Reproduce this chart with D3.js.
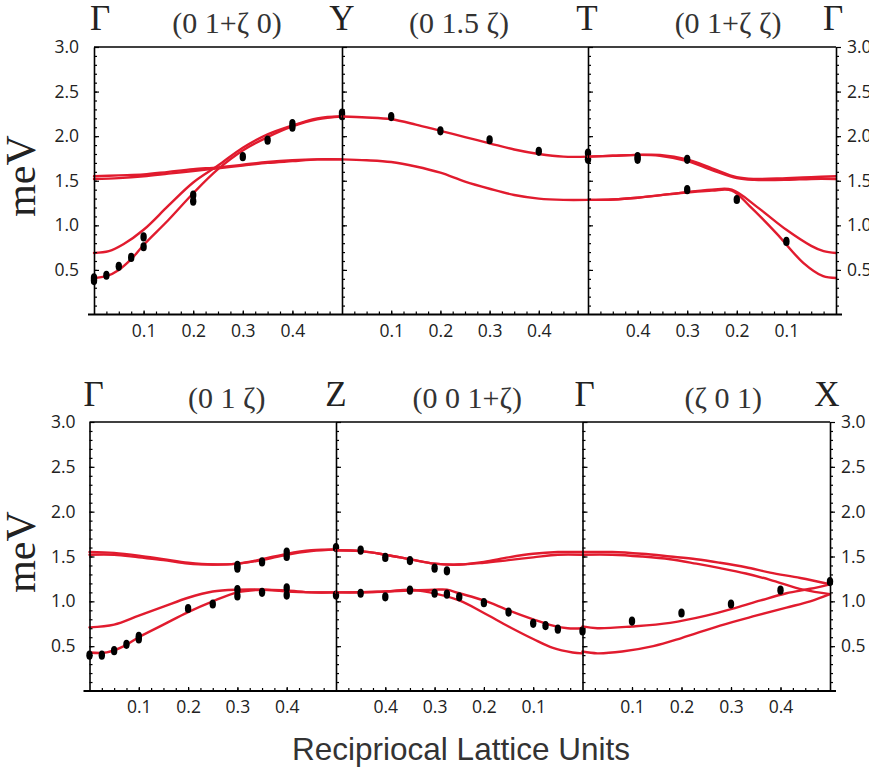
<!DOCTYPE html>
<html><head><meta charset="utf-8">
<script src="https://cdn.jsdelivr.net/npm/d3@7"></script>
<style>body{margin:0;background:#fff}svg{display:block}</style>
</head><body><svg id="c" width="869" height="769"></svg>
<script>
// ---------------- DATA ----------------
const energyTicks = [0.5, 1.0, 1.5, 2.0, 2.5, 3.0];
const zetaTicks = [0.1, 0.2, 0.3, 0.4];
const topPointLabels = ["Γ", "Y", "T", "Γ"];
const topPathLabels = ["(0 1+ζ 0)", "(0 1.5 ζ)", "(0 1+ζ ζ)"];
const bottomPointLabels = ["Γ", "Z", "Γ", "X"];
const bottomPathLabels = ["(0 1 ζ)", "(0 0 1+ζ)", "(ζ 0 1)"];
const xAxisTitle = "Recipriocal Lattice Units";
const yAxisTitle = "meV";

// Top panel, segment Γ→Y  (ζ, meV)
const curvesGY = [
  [[0,0.41],[0.025,0.43],[0.05,0.50],[0.075,0.62],[0.1,0.78],[0.15,1.06],[0.2,1.36],[0.25,1.63],[0.3,1.84],[0.35,1.99],[0.4,2.11],[0.45,2.19],[0.5,2.22]],
  [[0,0.69],[0.03,0.71],[0.06,0.79],[0.1,0.95],[0.15,1.22],[0.2,1.48],[0.25,1.67],[0.3,1.87],[0.35,2.02],[0.4,2.12],[0.45,2.2],[0.5,2.22]],
  [[0,1.55],[0.05,1.56],[0.1,1.57],[0.15,1.60],[0.2,1.63],[0.25,1.65],[0.3,1.68],[0.35,1.71],[0.4,1.73],[0.45,1.74],[0.5,1.74]],
  [[0,1.52],[0.05,1.53],[0.1,1.55],[0.15,1.58],[0.2,1.61],[0.25,1.64],[0.3,1.67],[0.35,1.70],[0.4,1.72],[0.45,1.74],[0.5,1.74]]
];
const dotsGY = [[0,0.41],[0,0.38],[0.025,0.44],[0.05,0.54],[0.075,0.64],[0.1,0.87],[0.1,0.76],[0.2,1.34],[0.2,1.27],[0.3,1.77],[0.35,1.955],[0.4,2.14],[0.4,2.10],[0.5,2.26],[0.5,2.23]];

// Top panel, segment Y→T
const curvesYT = [
  [[0,2.22],[0.05,2.21],[0.1,2.19],[0.15,2.13],[0.2,2.06],[0.25,1.99],[0.3,1.92],[0.35,1.85],[0.4,1.80],[0.45,1.77],[0.5,1.77]],
  [[0,1.74],[0.05,1.73],[0.1,1.71],[0.15,1.66],[0.2,1.59],[0.25,1.49],[0.3,1.41],[0.35,1.34],[0.4,1.30],[0.45,1.285],[0.5,1.285]]
];
const dotsYT = [[0.1,2.22],[0.2,2.06],[0.3,1.96],[0.4,1.83],[0.5,1.81],[0.5,1.74]];

// Top panel, segment T→Γ (ζ measured from Γ)
const curvesTG = [
  [[0.5,1.77],[0.45,1.78],[0.4,1.79],[0.355,1.79],[0.3,1.74],[0.25,1.64],[0.2,1.54],[0.165,1.52],[0.1,1.53],[0.05,1.54],[0,1.55]],
  [[0.5,1.77],[0.45,1.78],[0.4,1.79],[0.355,1.78],[0.3,1.72],[0.25,1.62],[0.2,1.53],[0.165,1.51],[0.1,1.51],[0.05,1.52],[0,1.52]],
  [[0.5,1.285],[0.45,1.29],[0.4,1.31],[0.335,1.35],[0.25,1.40],[0.21,1.40],[0.16,1.21],[0.1,0.95],[0.05,0.77],[0.025,0.71],[0,0.69]],
  [[0.5,1.285],[0.45,1.29],[0.4,1.31],[0.335,1.35],[0.25,1.39],[0.21,1.39],[0.173,1.21],[0.12,0.91],[0.066,0.58],[0.026,0.43],[0,0.41]]
];
const dotsTG = [[0.4,1.77],[0.4,1.74],[0.3,1.74],[0.3,1.40],[0.2,1.29],[0.1,0.82]];

// Bottom panel, segment Γ→Z
const curvesGZ = [
  [[0,1.55],[0.05,1.54],[0.1,1.51],[0.15,1.47],[0.2,1.43],[0.25,1.41],[0.3,1.42],[0.35,1.47],[0.4,1.53],[0.45,1.57],[0.5,1.58]],
  [[0,1.52],[0.05,1.52],[0.1,1.49],[0.15,1.46],[0.2,1.42],[0.25,1.41],[0.3,1.42],[0.35,1.46],[0.4,1.52],[0.45,1.56],[0.5,1.58]],
  [[0,0.71],[0.05,0.74],[0.1,0.84],[0.15,0.94],[0.2,1.04],[0.25,1.11],[0.3,1.13],[0.35,1.13],[0.4,1.11],[0.45,1.10],[0.5,1.10]],
  [[0,0.43],[0.035,0.43],[0.07,0.50],[0.1,0.60],[0.15,0.74],[0.2,0.88],[0.25,1.0],[0.3,1.10],[0.35,1.13],[0.4,1.12],[0.45,1.10],[0.5,1.10]]
];
const dotsGZ = [[0,0.40],[0.025,0.40],[0.05,0.45],[0.075,0.52],[0.1,0.61],[0.1,0.58],[0.2,0.92],[0.25,0.97],[0.3,1.40],[0.3,1.37],[0.3,1.13],[0.3,1.06],[0.35,1.44],[0.35,1.10],[0.4,1.55],[0.4,1.50],[0.4,1.15],[0.4,1.07],[0.5,1.60],[0.5,1.07]];

// Bottom panel, segment Z→Γ (ζ measured from Γ)
const curvesZG = [
  [[0.5,1.57],[0.45,1.56],[0.4,1.52],[0.35,1.47],[0.3,1.42],[0.25,1.41],[0.2,1.44],[0.15,1.49],[0.1,1.53],[0.05,1.55],[0,1.55]],
  [[0.5,1.57],[0.45,1.56],[0.4,1.52],[0.35,1.47],[0.3,1.42],[0.25,1.41],[0.2,1.43],[0.15,1.46],[0.1,1.49],[0.05,1.52],[0,1.52]],
  [[0.5,1.10],[0.45,1.10],[0.4,1.11],[0.35,1.12],[0.3,1.13],[0.275,1.13],[0.25,1.09],[0.2,1.01],[0.15,0.90],[0.1,0.80],[0.06,0.73],[0.03,0.70],[0,0.70]],
  [[0.5,1.10],[0.4,1.11],[0.35,1.13],[0.31,1.10],[0.25,1.01],[0.2,0.87],[0.15,0.72],[0.1,0.58],[0.06,0.48],[0.02,0.43],[0,0.42]]
];
const dotsZG = [[0.45,1.57],[0.45,1.09],[0.4,1.49],[0.4,1.05],[0.35,1.455],[0.35,1.125],[0.3,1.37],[0.3,1.09],[0.275,1.34],[0.275,1.08],[0.25,1.05],[0.2,0.985],[0.15,0.88],[0.1,0.755],[0.075,0.73],[0.05,0.69],[0,0.67]];

// Bottom panel, segment Γ→X
const curvesGX = [
  [[0,1.55],[0.06,1.55],[0.12,1.53],[0.177,1.50],[0.23,1.47],[0.278,1.43],[0.33,1.38],[0.379,1.32],[0.44,1.26],[0.5,1.19]],
  [[0,1.52],[0.06,1.52],[0.12,1.50],[0.177,1.47],[0.23,1.42],[0.278,1.37],[0.33,1.31],[0.379,1.24],[0.446,1.13],[0.5,1.08]],
  [[0,0.72],[0.03,0.70],[0.1,0.72],[0.177,0.76],[0.25,0.84],[0.311,0.93],[0.36,1.01],[0.412,1.09],[0.46,1.14],[0.5,1.19]],
  [[0,0.44],[0.03,0.42],[0.08,0.44],[0.143,0.50],[0.2,0.59],[0.278,0.73],[0.35,0.84],[0.412,0.93],[0.46,1.00],[0.5,1.08]]
];
const dotsGX = [[0.1,0.78],[0.2,0.87],[0.3,0.97],[0.4,1.125],[0.5,1.22]];

// ---------------- DRAW ----------------
const svg = d3.select("#c");
svg.append("rect").attr("width", 869).attr("height", 769).attr("fill", "#fff");
const RED = "#e11b2e";
const TICKFONT = "'Open Sans', 'Noto Sans', sans-serif";
const SERIF = "'Liberation Serif', 'DejaVu Serif', serif";

function styleAxis(g) {
  g.selectAll("path.domain").attr("stroke", "#000").attr("stroke-width", 1.6);
  g.selectAll(".tick line").attr("stroke", "#000").attr("stroke-width", 1.2);
  g.selectAll(".tick text").attr("font-family", TICKFONT).attr("font-size", 17.5).attr("fill", "#222");
}

function panel(cfg) {
  const E = cfg.edges;
  const y = d3.scaleLinear().domain([0, 3]).range(cfg.yRange);
  const g = svg.append("g");

  cfg.segments.forEach((s, i) => {
    const x = d3.scaleLinear().domain(s.dir).range([E[i], E[i + 1]]);
    const line = d3.line().x(d => x(d[0])).y(d => y(d[1])).curve(d3.curveCatmullRom.alpha(0.5));

    const minor = g.append("g").attr("transform", `translate(0,${y(0)})`)
      .call(d3.axisBottom(x).tickValues(d3.range(0.025, 0.49, 0.025)).tickSize(-3).tickFormat(""));
    minor.select("path.domain").remove();
    styleAxis(minor);
    const major = g.append("g").attr("transform", `translate(0,${y(0)})`)
      .call(d3.axisBottom(x).tickValues(zetaTicks).tickSizeInner(-4).tickSizeOuter(0).tickPadding(10).tickFormat(d3.format(".1f")));
    major.select("path.domain").remove();
    styleAxis(major);

    g.append("g").selectAll("path").data(s.curves).join("path")
      .attr("d", line).attr("fill", "none").attr("stroke", RED).attr("stroke-width", 2.4)
      .attr("stroke-linecap", "round");
    g.append("g").selectAll("ellipse").data(s.dots).join("ellipse")
      .attr("cx", d => x(d[0])).attr("cy", d => y(d[1])).attr("rx", 3.2).attr("ry", 4.6).attr("fill", "#000");
  });

  g.append("line").attr("x1", E[0] - 6).attr("x2", E[3] + 6).attr("y1", y(0)).attr("y2", y(0))
    .attr("stroke", "#000").attr("stroke-width", 1.8);
  g.append("line").attr("x1", E[0]).attr("x2", E[3]).attr("y1", y(3)).attr("y2", y(3))
    .attr("stroke", "#000").attr("stroke-width", 1.4);

  const lm = g.append("g").attr("transform", `translate(${E[0]},0)`)
    .call(d3.axisLeft(y).tickValues(d3.range(0.1, 3.0, 0.1)).tickSize(-3).tickFormat(""));
  lm.select("path.domain").remove(); styleAxis(lm);
  const la = g.append("g").attr("transform", `translate(${E[0]},0)`)
    .call(d3.axisLeft(y).tickValues(energyTicks).tickSizeInner(-5).tickSizeOuter(0).tickPadding(cfg.leftPad).tickFormat(d3.format(".1f")));
  styleAxis(la);

  [1, 2, 3].forEach(k => {
    const dm = g.append("g").attr("transform", `translate(${E[k]},0)`)
      .call(d3.axisRight(y).tickValues(d3.range(0.1, 3.0, 0.1)).tickSize(3).tickFormat(""));
    dm.select("path.domain").remove(); styleAxis(dm);
    const da = g.append("g").attr("transform", `translate(${E[k]},0)`)
      .call(d3.axisRight(y).tickValues(energyTicks).tickSizeInner(5).tickSizeOuter(0).tickPadding(6)
        .tickFormat(k === 3 ? d3.format(".1f") : ""));
    styleAxis(da);
  });

  g.append("g").selectAll("text").data(cfg.pointLabels).join("text")
    .attr("x", (d, i) => E[i] + cfg.pointDx[i]).attr("y", cfg.labelY)
    .attr("text-anchor", "middle").attr("font-family", SERIF).attr("font-size", 35).attr("fill", "#222")
    .text(d => d);
  g.append("g").selectAll("text").data(cfg.pathLabels).join("text")
    .attr("x", (d, i) => (E[i] + E[i + 1]) / 2 + cfg.pathDx[i]).attr("y", cfg.pathY)
    .attr("text-anchor", "middle").attr("font-family", SERIF).attr("font-size", 30).attr("fill", "#333")
    .text(d => d);
  g.append("text").attr("transform", `translate(${cfg.titleX},${cfg.titleY}) rotate(-90)`)
    .attr("text-anchor", "middle").attr("font-family", SERIF).attr("font-size", 42).attr("fill", "#222")
    .text(yAxisTitle);
}

panel({
  edges: [94, 342, 588, 836], yRange: [314.5, 47], leftPad: 15,
  segments: [
    { dir: [0, 0.5], curves: curvesGY, dots: dotsGY },
    { dir: [0, 0.5], curves: curvesYT, dots: dotsYT },
    { dir: [0.5, 0], curves: curvesTG, dots: dotsTG }
  ],
  pointLabels: topPointLabels, pointDx: [6, 0, -1, -3], labelY: 30,
  pathLabels: topPathLabels, pathDx: [9, -6, 16], pathY: 33,
  titleX: 35, titleY: 176
});

panel({
  edges: [89.5, 336, 582.5, 830], yRange: [691, 422], leftPad: 14,
  segments: [
    { dir: [0, 0.5], curves: curvesGZ, dots: dotsGZ },
    { dir: [0.5, 0], curves: curvesZG, dots: dotsZG },
    { dir: [0, 0.5], curves: curvesGX, dots: dotsGX }
  ],
  pointLabels: bottomPointLabels, pointDx: [4, 0, 2, -3], labelY: 406,
  pathLabels: bottomPathLabels, pathDx: [14, 8, 17], pathY: 408,
  titleX: 35, titleY: 552
});

svg.append("text").attr("x", 461).attr("y", 760).attr("text-anchor", "middle")
  .attr("font-family", "'Liberation Sans', Arial, sans-serif").attr("font-size", 31.5).attr("fill", "#333")
  .text(xAxisTitle);
</script>
</body></html>
